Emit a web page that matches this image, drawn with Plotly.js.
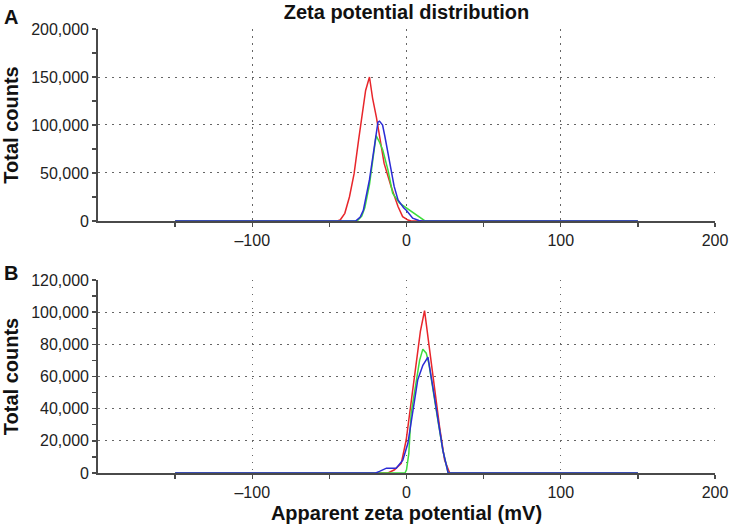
<!DOCTYPE html>
<html>
<head>
<meta charset="utf-8">
<script src="https://cdn.plot.ly/plotly-3.0.1.min.js"></script>
<style>html,body{margin:0;padding:0;background:#fff;}#chart{width:731px;height:528px;}</style>
</head>
<body>
<div id="chart"></div>
<script>
// Panel A (mV vs total counts)
const redAx   = [-150, -45, -43, -40, -37, -34, -31, -28, -26.5, -24, -22, -19.5, -17.5, -14.5, -10, -5.5, -2.5, 1, 3, 150];
const redAy   = [0, 0, 1000, 8000, 25000, 49000, 85000, 122000, 136000, 150000, 128000, 108000, 88000, 60000, 36000, 15000, 4500, 1000, 0, 0];
const greenAx = [-150, -32, -29, -27, -24, -21.5, -19.7, -17.5, -15.4, -12, -9, -4.5, 2, 8.4, 12, 150];
const greenAy = [0, 0, 5000, 14000, 38000, 68000, 89000, 82000, 74000, 53000, 29000, 18500, 11500, 4500, 0, 0];
const blueAx  = [-150, -33, -30, -28, -24, -21, -18.5, -17.5, -15.5, -14, -11, -8, -5.5, -2, 0, 4, 8, 10, 150];
const blueAy  = [0, 0, 4000, 11000, 43000, 77000, 103000, 104000, 100000, 88000, 60000, 36000, 22000, 14000, 11000, 3000, 500, 0, 0];

// Panel B
const redBx   = [-150, -12, -7.8, -3.4, -0.2, 3, 6.3, 9, 11.7, 15, 18.2, 21.4, 24.7, 28, 150];
const redBy   = [0, 0, 2000, 6000, 20500, 45000, 70000, 88000, 101000, 76000, 54000, 29000, 8000, 0, 0];
const greenBx = [-150, -1, 0, 1.5, 3, 6.3, 8.5, 10.6, 12.8, 14.5, 17, 20.3, 23.6, 27, 150];
const greenBy = [0, 0, 2000, 12000, 37000, 58000, 70000, 77000, 74500, 68000, 54000, 33000, 14000, 0, 0];
const blueBx  = [-150, -20, -17.5, -13, -6.7, -2.4, 0.9, 4.1, 7.3, 10.6, 13.9, 17, 20.3, 23.6, 27, 150];
const blueBy  = [0, 0, 1000, 3000, 3000, 8000, 18500, 37000, 58000, 67000, 72000, 54000, 33000, 14000, 0, 0];

const xMajor = [-100, 0, 100, 200];
const xMinor = [-150, -50, 50, 150];
const yMajorA = [0, 50000, 100000, 150000, 200000];
const yMinorA = [25000, 75000, 125000, 175000];
const yMajorB = [0, 20000, 40000, 60000, 80000, 100000, 120000];
const yMinorB = [10000, 30000, 50000, 70000, 90000, 110000];

const RED = '#e8262b', GREEN = '#3ddc3d', BLUE = '#2b2bd6';
function tr(x, y, c, xa, ya) {
  return {x: x, y: y, type: 'scatter', mode: 'lines', xaxis: xa, yaxis: ya,
          line: {color: c, width: 1.5}, hoverinfo: 'skip', showlegend: false};
}
const data = [
  tr(redAx, redAy, RED, 'x', 'y'),
  tr(greenAx, greenAy, GREEN, 'x', 'y'),
  tr(blueAx, blueAy, BLUE, 'x', 'y'),
  tr(redBx, redBy, RED, 'x2', 'y2'),
  tr(greenBx, greenBy, GREEN, 'x2', 'y2'),
  tr(blueBx, blueBy, BLUE, 'x2', 'y2')
];

const FONT = 'Liberation Sans, Arial, sans-serif';
const gridDash = '1.5px,5.5px';
const AXC = '#4a4a4a';
function xaxis(anchor, title) {
  const a = {
    anchor: anchor, domain: [0, 1], range: [-200, 200],
    tickmode: 'array', tickvals: xMajor, ticktext: ['\u2013100', '0', '100', '200'],
    ticks: 'outside', ticklen: 4, tickcolor: AXC, tickwidth: 1.4,
    minor: {tickmode: 'array', tickvals: xMinor, ticks: 'outside', ticklen: 4, tickcolor: AXC, tickwidth: 1.4, showgrid: false},
    showline: true, linecolor: AXC, linewidth: 1.8, layer: 'below traces',
    showgrid: true, gridcolor: '#666', gridwidth: 1, griddash: gridDash,
    zeroline: false, tickfont: {family: FONT, size: 16, color: '#222'}
  };
  if (title) a.title = {text: title, font: {family: FONT, size: 20, color: '#111', weight: 'bold'}, standoff: 6};
  return a;
}
function yaxis(anchor, dom, range, major, minor) {
  return {
    anchor: anchor, domain: dom, range: range,
    tickmode: 'array', tickvals: major, tickformat: ',d',
    ticks: 'outside', ticklen: 4, tickcolor: AXC, tickwidth: 1.4,
    minor: {tickmode: 'array', tickvals: minor, ticks: 'outside', ticklen: 4, tickcolor: AXC, tickwidth: 1.4, showgrid: false},
    showline: true, linecolor: AXC, linewidth: 1.8, layer: 'below traces',
    showgrid: true, gridcolor: '#666', gridwidth: 1, griddash: gridDash,
    zeroline: false, tickfont: {family: FONT, size: 16, color: '#222'},
    title: {text: 'Total counts', font: {family: FONT, size: 20, color: '#111', weight: 'bold'}, standoff: 8}
  };
}

const layout = {
  width: 731, height: 528,
  margin: {l: 98, r: 16, t: 29, b: 55},
  paper_bgcolor: '#fff', plot_bgcolor: '#fff',
  title: {text: 'Zeta potential distribution', font: {family: FONT, size: 20, color: '#111', weight: 'bold'},
          x: 0.5, xref: 'paper', xanchor: 'center', y: 1 - 12/528, yref: 'container', yanchor: 'middle'},
  xaxis: xaxis('y', null),
  yaxis: yaxis('x', [0.5676, 1], [0, 200000], yMajorA, yMinorA),
  xaxis2: xaxis('y2', 'Apparent zeta potential (mV)'),
  yaxis2: yaxis('x2', [0, 0.4347], [0, 120000], yMajorB, yMinorB),
  annotations: [
    {text: 'A', xref: 'paper', yref: 'paper', x: -0.156, y: 1.056, xanchor: 'left', yanchor: 'top', showarrow: false,
     font: {family: FONT, size: 20, color: '#111', weight: 'bold'}},
    {text: 'B', xref: 'paper', yref: 'paper', x: -0.156, y: 0.48, xanchor: 'left', yanchor: 'top', showarrow: false,
     font: {family: FONT, size: 20, color: '#111', weight: 'bold'}}
  ]
};

Plotly.newPlot('chart', data, layout, {displayModeBar: false, staticPlot: true});
</script>
</body>
</html>
